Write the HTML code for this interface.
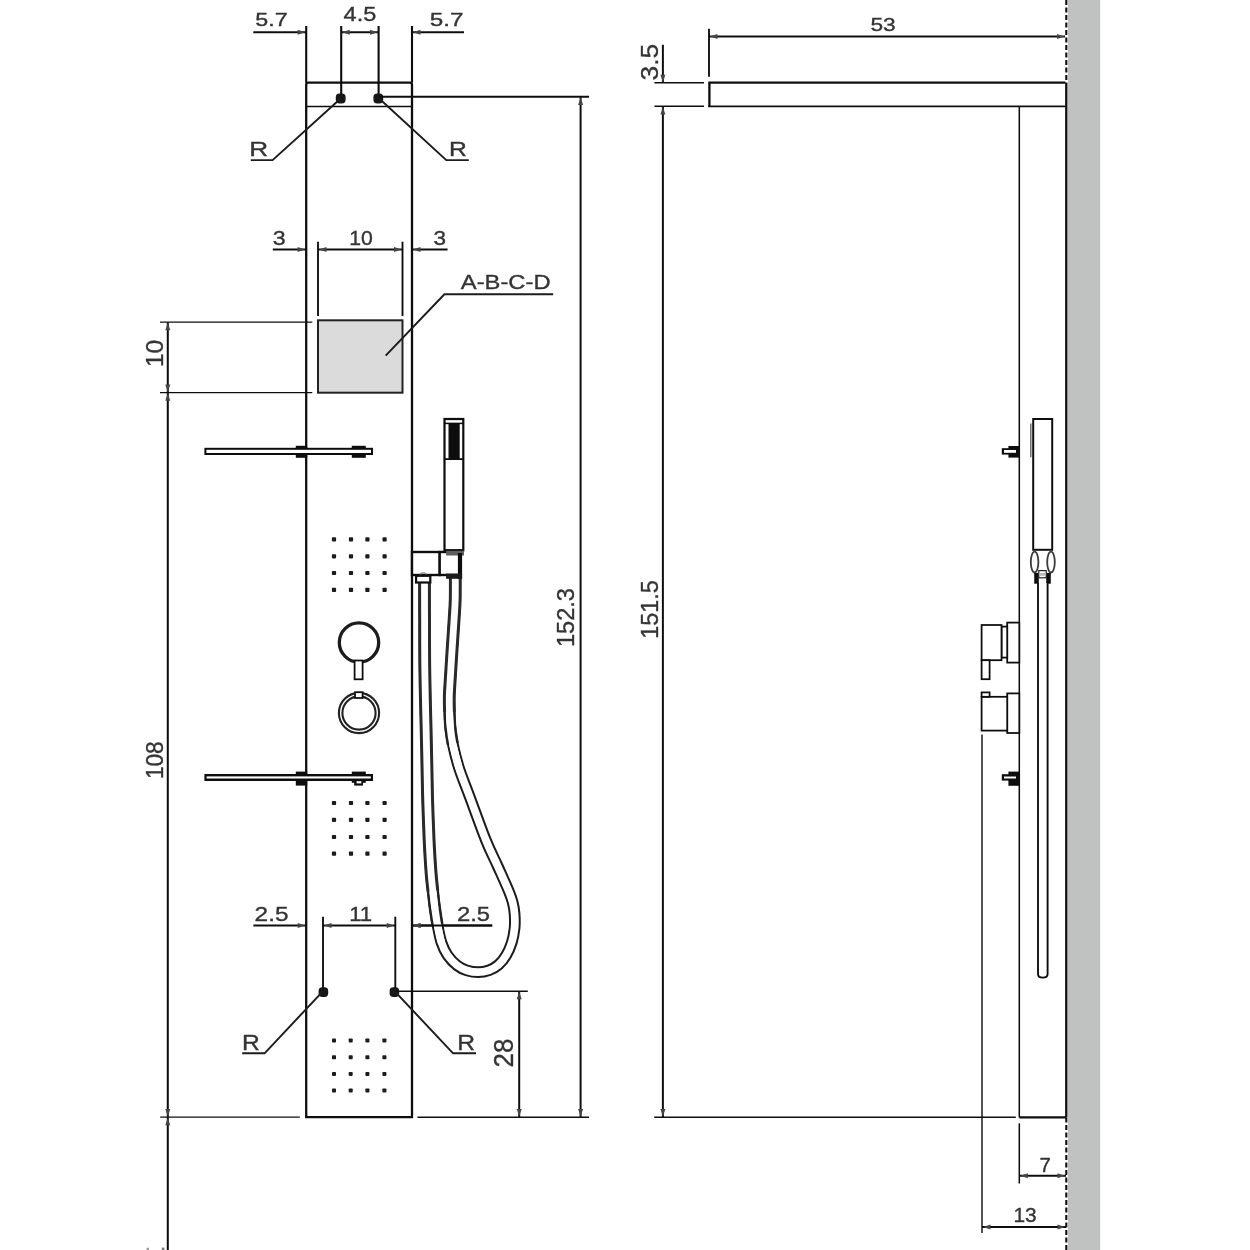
<!DOCTYPE html>
<html><head><meta charset="utf-8"><title>Shower panel dimensions</title>
<style>
html,body{margin:0;padding:0;background:#fff;overflow:hidden;}
svg{display:block;font-family:"Liberation Sans",sans-serif;}
svg{will-change:transform;transform:translateZ(0);}
</style></head>
<body>
<svg width="1250" height="1250" viewBox="0 0 1250 1250">
<defs><filter id="soft" x="-20" y="-20" width="1290" height="1290" filterUnits="userSpaceOnUse"><feGaussianBlur stdDeviation="0.42"/></filter></defs>
<rect x="0" y="0" width="1250" height="1250" fill="#fff"/>
<g filter="url(#soft)">
<rect x="-20" y="-20" width="1290" height="1290" fill="#fff"/>
<rect x="1068" y="-15" width="32.2" height="1280" fill="#c0c2c1"/>
<line x1="1066.3" y1="-15.1" x2="1066.3" y2="82.7" stroke="#111" stroke-width="2.12" stroke-dasharray="5 2.5"/>
<line x1="1066.3" y1="82.7" x2="1066.3" y2="1117.4" stroke="#111" stroke-width="2.34" />
<line x1="1066.3" y1="1117.4" x2="1066.3" y2="1265" stroke="#111" stroke-width="2.12" stroke-dasharray="5 2.5"/>
<line x1="306.2" y1="26" x2="306.2" y2="82.7" stroke="#111" stroke-width="2.12" />
<line x1="412.0" y1="26" x2="412.0" y2="82.7" stroke="#111" stroke-width="2.12" />
<line x1="341.2" y1="26" x2="341.2" y2="98" stroke="#111" stroke-width="2.12" />
<line x1="378.6" y1="26" x2="378.6" y2="98" stroke="#111" stroke-width="2.12" />
<path d="M306.2,1117.2 L306.2,84.7 Q306.2,82.7 308.2,82.7 L410.0,82.7 Q412.0,82.7 412.0,84.7 L412.0,1117.2 Z" fill="none" stroke="#111" stroke-width="2.3"/>
<line x1="306.2" y1="106.5" x2="412.0" y2="106.5" stroke="#111" stroke-width="1.44" />
<rect x="335.8" y="93.6" width="9.8" height="9.8" rx="3.7" fill="#161616"/>
<rect x="373.4" y="93.6" width="9.8" height="9.8" rx="3.7" fill="#161616"/>
<line x1="253.3" y1="32.2" x2="306.2" y2="32.2" stroke="#111" stroke-width="2.0" />
<polygon points="305.2,32.2 297.7,29.7 297.7,34.7" fill="#444"/>
<line x1="341.2" y1="32.2" x2="378.6" y2="32.2" stroke="#111" stroke-width="2.0" />
<polygon points="342.2,32.2 349.7,29.7 349.7,34.7" fill="#444"/>
<polygon points="377.6,32.2 370.1,29.7 370.1,34.7" fill="#444"/>
<line x1="412.0" y1="32.2" x2="464" y2="32.2" stroke="#111" stroke-width="2.0" />
<polygon points="413.0,32.2 420.5,29.7 420.5,34.7" fill="#444"/>
<text transform="translate(255.27,26.21) scale(1.218,1)" font-size="19.14" fill="#343434" stroke="#343434" stroke-width="0.35">5.7</text>
<text transform="translate(343.61,21.31) scale(1.212,1)" font-size="19.43" fill="#343434" stroke="#343434" stroke-width="0.35">4.5</text>
<text transform="translate(429.63,26.21) scale(1.270,1)" font-size="19.14" fill="#343434" stroke="#343434" stroke-width="0.35">5.7</text>
<polyline points="341.2,98 272.6,160.1 250.8,160.1" fill="none" stroke="#1c1c1c" stroke-width="1.95"/>
<polyline points="378.6,98 446.3,160.1 468.8,160.1" fill="none" stroke="#1c1c1c" stroke-width="1.95"/>
<text transform="translate(249.20,155.90) scale(1.274,1)" font-size="20.58" fill="#343434" stroke="#343434" stroke-width="0.35">R</text>
<text transform="translate(449.02,155.90) scale(1.200,1)" font-size="20.58" fill="#343434" stroke="#343434" stroke-width="0.35">R</text>
<line x1="272.8" y1="249.6" x2="306.2" y2="249.6" stroke="#111" stroke-width="2.0" />
<polygon points="305.2,249.6 297.7,247.1 297.7,252.1" fill="#444"/>
<line x1="318" y1="249.6" x2="402.5" y2="249.6" stroke="#111" stroke-width="2.0" />
<polygon points="319.0,249.6 326.5,247.1 326.5,252.1" fill="#444"/>
<polygon points="401.5,249.6 394.0,247.1 394.0,252.1" fill="#444"/>
<line x1="412.0" y1="249.6" x2="447.6" y2="249.6" stroke="#111" stroke-width="2.0" />
<polygon points="413.0,249.6 420.5,247.1 420.5,252.1" fill="#444"/>
<line x1="318" y1="241.7" x2="318" y2="316" stroke="#111" stroke-width="1.89" />
<line x1="402.5" y1="241.7" x2="402.5" y2="316" stroke="#111" stroke-width="1.89" />
<text transform="translate(272.87,244.70) scale(1.185,1)" font-size="19.58" fill="#343434" stroke="#343434" stroke-width="0.35">3</text>
<text transform="translate(349.31,244.70) scale(1.083,1)" font-size="19.58" fill="#343434" stroke="#343434" stroke-width="0.35">10</text>
<text transform="translate(433.60,244.70) scale(1.152,1)" font-size="19.58" fill="#343434" stroke="#343434" stroke-width="0.35">3</text>
<rect x="318" y="320.3" width="84.5" height="72.4" fill="#dbdbdb" stroke="#222" stroke-width="2.0"/>
<polyline points="385.7,355.6 444.4,294.3 553.2,294.3" fill="none" stroke="#1c1c1c" stroke-width="1.95"/>
<text transform="translate(460.78,289.29) scale(1.141,1)" font-size="20.85" fill="#343434" stroke="#343434" stroke-width="0.35">A-B-C-D</text>
<line x1="160" y1="322.2" x2="312.3" y2="322.2" stroke="#111" stroke-width="1.33" />
<line x1="160" y1="392.6" x2="312.3" y2="392.6" stroke="#111" stroke-width="1.33" />
<line x1="167.8" y1="322.2" x2="167.8" y2="1265" stroke="#111" stroke-width="2.06" />
<rect x="161.8" y="1247.6" width="2.6" height="2.4" fill="#777"/>
<rect x="146.6" y="1247.8" width="2.4" height="2.2" fill="#999"/>
<polygon points="167.8,322.8 165.3,330.3 170.3,330.3" fill="#444"/>
<polygon points="167.8,392.0 165.3,384.5 170.3,384.5" fill="#444"/>
<polygon points="167.8,393.2 165.3,400.7 170.3,400.7" fill="#444"/>
<polygon points="167.8,1116.6 165.3,1109.1 170.3,1109.1" fill="#444"/>
<polygon points="167.8,1117.8 165.3,1125.3 170.3,1125.3" fill="#444"/>
<line x1="160.2" y1="1117.2" x2="299.8" y2="1117.2" stroke="#111" stroke-width="1.33" />
<text transform="translate(163.46,367.15) scale(0.986,1) rotate(-90)" font-size="24.72" fill="#343434" stroke="#343434" stroke-width="0.35">10</text>
<text transform="translate(163.46,779.10) scale(1.076,1) rotate(-90)" font-size="22.65" fill="#343434" stroke="#343434" stroke-width="0.35">108</text>
<rect x="295.8" y="445.8" width="11.4" height="12" fill="#0e0e0e"/>
<rect x="351.8" y="445.8" width="14" height="12" fill="#0e0e0e"/>
<rect x="204.4" y="447.8" width="168.6" height="7.2" fill="#0e0e0e"/>
<rect x="206.4" y="449.8" width="164.6" height="3.2" fill="#fff"/>
<rect x="295.8" y="771.6" width="11.4" height="14" fill="#0e0e0e"/>
<rect x="351.8" y="771.6" width="14" height="11.2" fill="#0e0e0e"/>
<rect x="354.2" y="782" width="8.8" height="3.6" fill="#0e0e0e"/>
<rect x="204.4" y="774" width="168.6" height="7" fill="#0e0e0e"/>
<rect x="206.6" y="776.4" width="164.2" height="2.1" fill="#fff"/>
<rect x="356.6" y="781.2" width="4.8" height="2.2" fill="#fff"/>
<rect x="331.9" y="537.3" width="4.2" height="4.2" fill="#1a1a1a" rx="0.8"/>
<rect x="348.9" y="537.3" width="4.2" height="4.2" fill="#1a1a1a" rx="0.8"/>
<rect x="365.3" y="537.3" width="4.2" height="4.2" fill="#1a1a1a" rx="0.8"/>
<rect x="382.5" y="537.3" width="4.2" height="4.2" fill="#1a1a1a" rx="0.8"/>
<rect x="331.9" y="554.2" width="4.2" height="4.2" fill="#1a1a1a" rx="0.8"/>
<rect x="348.9" y="554.2" width="4.2" height="4.2" fill="#1a1a1a" rx="0.8"/>
<rect x="365.3" y="554.2" width="4.2" height="4.2" fill="#1a1a1a" rx="0.8"/>
<rect x="382.5" y="554.2" width="4.2" height="4.2" fill="#1a1a1a" rx="0.8"/>
<rect x="331.9" y="570.9" width="4.2" height="4.2" fill="#1a1a1a" rx="0.8"/>
<rect x="348.9" y="570.9" width="4.2" height="4.2" fill="#1a1a1a" rx="0.8"/>
<rect x="365.3" y="570.9" width="4.2" height="4.2" fill="#1a1a1a" rx="0.8"/>
<rect x="382.5" y="570.9" width="4.2" height="4.2" fill="#1a1a1a" rx="0.8"/>
<rect x="331.9" y="587.8" width="4.2" height="4.2" fill="#1a1a1a" rx="0.8"/>
<rect x="348.9" y="587.8" width="4.2" height="4.2" fill="#1a1a1a" rx="0.8"/>
<rect x="365.3" y="587.8" width="4.2" height="4.2" fill="#1a1a1a" rx="0.8"/>
<rect x="382.5" y="587.8" width="4.2" height="4.2" fill="#1a1a1a" rx="0.8"/>
<rect x="331.9" y="800.9" width="4.2" height="4.2" fill="#1a1a1a" rx="0.8"/>
<rect x="348.9" y="800.9" width="4.2" height="4.2" fill="#1a1a1a" rx="0.8"/>
<rect x="365.3" y="800.9" width="4.2" height="4.2" fill="#1a1a1a" rx="0.8"/>
<rect x="382.5" y="800.9" width="4.2" height="4.2" fill="#1a1a1a" rx="0.8"/>
<rect x="331.9" y="817.7" width="4.2" height="4.2" fill="#1a1a1a" rx="0.8"/>
<rect x="348.9" y="817.7" width="4.2" height="4.2" fill="#1a1a1a" rx="0.8"/>
<rect x="365.3" y="817.7" width="4.2" height="4.2" fill="#1a1a1a" rx="0.8"/>
<rect x="382.5" y="817.7" width="4.2" height="4.2" fill="#1a1a1a" rx="0.8"/>
<rect x="331.9" y="834.9" width="4.2" height="4.2" fill="#1a1a1a" rx="0.8"/>
<rect x="348.9" y="834.9" width="4.2" height="4.2" fill="#1a1a1a" rx="0.8"/>
<rect x="365.3" y="834.9" width="4.2" height="4.2" fill="#1a1a1a" rx="0.8"/>
<rect x="382.5" y="834.9" width="4.2" height="4.2" fill="#1a1a1a" rx="0.8"/>
<rect x="331.9" y="851.6" width="4.2" height="4.2" fill="#1a1a1a" rx="0.8"/>
<rect x="348.9" y="851.6" width="4.2" height="4.2" fill="#1a1a1a" rx="0.8"/>
<rect x="365.3" y="851.6" width="4.2" height="4.2" fill="#1a1a1a" rx="0.8"/>
<rect x="382.5" y="851.6" width="4.2" height="4.2" fill="#1a1a1a" rx="0.8"/>
<rect x="332.0" y="1038.5" width="4.0" height="4.0" fill="#1a1a1a" rx="0.8"/>
<rect x="348.7" y="1038.5" width="4.0" height="4.0" fill="#1a1a1a" rx="0.8"/>
<rect x="365.4" y="1038.5" width="4.0" height="4.0" fill="#1a1a1a" rx="0.8"/>
<rect x="382.4" y="1038.5" width="4.0" height="4.0" fill="#1a1a1a" rx="0.8"/>
<rect x="332.0" y="1055.2" width="4.0" height="4.0" fill="#1a1a1a" rx="0.8"/>
<rect x="348.7" y="1055.2" width="4.0" height="4.0" fill="#1a1a1a" rx="0.8"/>
<rect x="365.4" y="1055.2" width="4.0" height="4.0" fill="#1a1a1a" rx="0.8"/>
<rect x="382.4" y="1055.2" width="4.0" height="4.0" fill="#1a1a1a" rx="0.8"/>
<rect x="332.0" y="1071.9" width="4.0" height="4.0" fill="#1a1a1a" rx="0.8"/>
<rect x="348.7" y="1071.9" width="4.0" height="4.0" fill="#1a1a1a" rx="0.8"/>
<rect x="365.4" y="1071.9" width="4.0" height="4.0" fill="#1a1a1a" rx="0.8"/>
<rect x="382.4" y="1071.9" width="4.0" height="4.0" fill="#1a1a1a" rx="0.8"/>
<rect x="332.0" y="1088.5" width="4.0" height="4.0" fill="#1a1a1a" rx="0.8"/>
<rect x="348.7" y="1088.5" width="4.0" height="4.0" fill="#1a1a1a" rx="0.8"/>
<rect x="365.4" y="1088.5" width="4.0" height="4.0" fill="#1a1a1a" rx="0.8"/>
<rect x="382.4" y="1088.5" width="4.0" height="4.0" fill="#1a1a1a" rx="0.8"/>
<circle cx="359" cy="642.5" r="19.7" fill="none" stroke="#1a1a1a" stroke-width="3.3"/>
<rect x="354.6" y="660.5" width="8.0" height="18.8" fill="#fff" stroke="#111" stroke-width="1.78"/>
<circle cx="359" cy="713" r="20.1" fill="none" stroke="#222" stroke-width="2.1"/>
<circle cx="359" cy="713" r="16.6" fill="none" stroke="#222" stroke-width="2.1"/>
<rect x="355" y="692.2" width="7.6" height="5.8" fill="#fff" stroke="#111" stroke-width="1.78"/>
<line x1="253.4" y1="925.4" x2="306.2" y2="925.4" stroke="#111" stroke-width="2.0" />
<polygon points="305.2,925.4 297.7,922.9 297.7,927.9" fill="#444"/>
<line x1="323" y1="925.4" x2="395.3" y2="925.4" stroke="#111" stroke-width="2.0" />
<polygon points="324.0,925.4 331.5,922.9 331.5,927.9" fill="#444"/>
<polygon points="394.3,925.4 386.8,922.9 386.8,927.9" fill="#444"/>
<line x1="412.0" y1="925.4" x2="492.2" y2="925.4" stroke="#111" stroke-width="2.0" />
<polygon points="413.0,925.4 420.5,922.9 420.5,927.9" fill="#444"/>
<line x1="323" y1="916.7" x2="323" y2="991.4" stroke="#111" stroke-width="1.89" />
<line x1="395.3" y1="916.7" x2="395.3" y2="991.4" stroke="#111" stroke-width="1.89" />
<rect x="318.6" y="987.3" width="9.6" height="9.6" rx="3.7" fill="#161616"/>
<rect x="389.6" y="987.3" width="9.6" height="9.6" rx="3.7" fill="#161616"/>
<text transform="translate(254.58,920.50) scale(1.237,1)" font-size="19.72" fill="#343434" stroke="#343434" stroke-width="0.35">2.5</text>
<text transform="translate(349.14,920.70) scale(1.094,1)" font-size="20.29" fill="#343434" stroke="#343434" stroke-width="0.35">11</text>
<text transform="translate(456.91,920.50) scale(1.209,1)" font-size="19.72" fill="#343434" stroke="#343434" stroke-width="0.35">2.5</text>
<polyline points="322.8,991.4 264.6,1053.3 242.2,1053.3" fill="none" stroke="#1c1c1c" stroke-width="1.95"/>
<polyline points="394.8,991.4 453.1,1053.3 476,1053.3" fill="none" stroke="#1c1c1c" stroke-width="1.95"/>
<text transform="translate(242.02,1050.30) scale(1.152,1)" font-size="21.45" fill="#343434" stroke="#343434" stroke-width="0.35">R</text>
<text transform="translate(457.32,1050.30) scale(1.152,1)" font-size="21.45" fill="#343434" stroke="#343434" stroke-width="0.35">R</text>
<line x1="394.8" y1="991.2" x2="527.8" y2="991.2" stroke="#111" stroke-width="1.44" />
<line x1="519.2" y1="991.2" x2="519.2" y2="1117.2" stroke="#111" stroke-width="2.0" />
<polygon points="519.2,991.8 516.7,999.3 521.7,999.3" fill="#444"/>
<polygon points="519.2,1116.6 516.7,1109.1 521.7,1109.1" fill="#444"/>
<text transform="translate(512.63,1067.50) scale(1.030,1) rotate(-90)" font-size="25.98" fill="#343434" stroke="#343434" stroke-width="0.35">28</text>
<line x1="417.4" y1="1117.2" x2="589" y2="1117.2" stroke="#111" stroke-width="1.44" />
<line x1="378.6" y1="96.8" x2="589" y2="96.8" stroke="#111" stroke-width="1.95" />
<line x1="580.6" y1="96.8" x2="580.6" y2="1117.2" stroke="#111" stroke-width="2.0" />
<polygon points="580.6,97.4 578.1,104.9 583.1,104.9" fill="#444"/>
<polygon points="580.6,1116.6 578.1,1109.1 583.1,1109.1" fill="#444"/>
<text transform="translate(573.85,647.07) scale(1.050,1) rotate(-90)" font-size="23.61" fill="#343434" stroke="#343434" stroke-width="0.35">152.3</text>
<rect x="444.5" y="419" width="18.8" height="131.2" fill="#fff" stroke="#111" stroke-width="2.23"/>
<line x1="444.5" y1="423.4" x2="463.3" y2="423.4" stroke="#111" stroke-width="1.5" />
<rect x="448.5" y="423.6" width="11.2" height="35.8" fill="#0c0c0c"/>
<line x1="444.5" y1="459.1" x2="463.3" y2="459.1" stroke="#111" stroke-width="1.78" />
<path d="M424.5,582.4 C424.5,588.7 424.5,607.1 424.6,620.0 C424.6,632.9 424.6,646.7 424.7,660.0 C424.8,673.3 425.2,688.7 425.4,700.0 C425.6,711.3 425.8,716.3 426.1,728.0 C426.4,739.7 426.7,757.2 427.0,770.0 C427.3,782.8 427.4,793.3 427.8,805.0 C428.2,816.7 428.6,828.8 429.1,840.0 C429.6,851.2 430.4,863.5 431.0,872.0 C431.6,880.5 432.2,885.0 432.9,891.2 C433.6,897.4 434.2,903.5 435.0,909.0 C435.8,914.5 436.3,918.9 437.4,924.5 C438.5,930.1 439.7,937.3 441.4,942.4 C443.1,947.5 444.9,951.4 447.5,955.2 C450.1,959.0 453.8,962.8 457.0,965.3 C460.2,967.8 463.5,969.4 467.0,970.5 C470.5,971.6 474.4,972.2 478.1,972.2 C481.8,972.2 485.6,971.5 489.0,970.3 C492.4,969.1 495.6,967.3 498.5,964.8 C501.4,962.3 504.0,958.9 506.2,955.2 C508.4,951.5 510.4,946.9 511.8,942.4 C513.2,937.9 514.1,932.7 514.6,928.0 C515.1,923.3 514.9,918.3 514.6,914.0 C514.3,909.7 513.6,905.8 512.6,902.0 C511.6,898.2 511.3,897.2 508.8,891.2 C506.3,885.2 501.4,874.5 497.6,866.0 C493.8,857.5 490.5,851.7 485.8,840.0 C481.1,828.3 473.9,808.0 469.4,796.0 C464.9,784.0 461.8,776.7 459.0,768.0 C456.2,759.3 454.2,750.7 452.8,744.0 C451.4,737.3 450.9,733.3 450.4,728.0 C449.8,722.7 449.7,717.2 449.5,712.0 C449.3,706.8 449.2,702.3 449.3,697.0 C449.4,691.7 449.7,688.2 450.2,680.0 C450.7,671.8 451.5,658.3 452.2,648.0 C452.9,637.7 453.7,626.0 454.2,618.0 C454.7,610.0 455.0,606.7 455.2,600.0 C455.4,593.3 455.3,581.7 455.3,578.0" fill="none" stroke="#1c1c1c" stroke-width="11.7" stroke-linecap="butt"/>
<path d="M424.5,582.4 C424.5,588.7 424.5,607.1 424.6,620.0 C424.6,632.9 424.6,646.7 424.7,660.0 C424.8,673.3 425.2,688.7 425.4,700.0 C425.6,711.3 425.8,716.3 426.1,728.0 C426.4,739.7 426.7,757.2 427.0,770.0 C427.3,782.8 427.4,793.3 427.8,805.0 C428.2,816.7 428.6,828.8 429.1,840.0 C429.6,851.2 430.4,863.5 431.0,872.0 C431.6,880.5 432.2,885.0 432.9,891.2 C433.6,897.4 434.2,903.5 435.0,909.0 C435.8,914.5 436.3,918.9 437.4,924.5 C438.5,930.1 439.7,937.3 441.4,942.4 C443.1,947.5 444.9,951.4 447.5,955.2 C450.1,959.0 453.8,962.8 457.0,965.3 C460.2,967.8 463.5,969.4 467.0,970.5 C470.5,971.6 474.4,972.2 478.1,972.2 C481.8,972.2 485.6,971.5 489.0,970.3 C492.4,969.1 495.6,967.3 498.5,964.8 C501.4,962.3 504.0,958.9 506.2,955.2 C508.4,951.5 510.4,946.9 511.8,942.4 C513.2,937.9 514.1,932.7 514.6,928.0 C515.1,923.3 514.9,918.3 514.6,914.0 C514.3,909.7 513.6,905.8 512.6,902.0 C511.6,898.2 511.3,897.2 508.8,891.2 C506.3,885.2 501.4,874.5 497.6,866.0 C493.8,857.5 490.5,851.7 485.8,840.0 C481.1,828.3 473.9,808.0 469.4,796.0 C464.9,784.0 461.8,776.7 459.0,768.0 C456.2,759.3 454.2,750.7 452.8,744.0 C451.4,737.3 450.9,733.3 450.4,728.0 C449.8,722.7 449.7,717.2 449.5,712.0 C449.3,706.8 449.2,702.3 449.3,697.0 C449.4,691.7 449.7,688.2 450.2,680.0 C450.7,671.8 451.5,658.3 452.2,648.0 C452.9,637.7 453.7,626.0 454.2,618.0 C454.7,610.0 455.0,606.7 455.2,600.0 C455.4,593.3 455.3,581.7 455.3,578.0" fill="none" stroke="#fff" stroke-width="7.7"/>
<path d="M432.9,891.2 C433.2,894.2 434.2,903.5 435.0,909.0 C435.8,914.5 437.0,921.9 437.4,924.5" fill="none" stroke="#222" stroke-width="12.2"/>
<path d="M432.9,891.2 C433.2,894.2 434.2,903.5 435.0,909.0 C435.8,914.5 436.3,918.9 437.4,924.5 C438.5,930.1 440.7,939.4 441.4,942.4" fill="none" stroke="#fff" stroke-width="7.25"/>
<path d="M452.8,744.0 C452.4,741.3 450.9,733.3 450.4,728.0 C449.8,722.7 449.6,714.7 449.5,712.0" fill="none" stroke="#222" stroke-width="12.2"/>
<path d="M459.0,768.0 C458.0,764.0 454.2,750.7 452.8,744.0 C451.4,737.3 450.9,733.3 450.4,728.0 C449.8,722.7 449.6,714.7 449.5,712.0" fill="none" stroke="#fff" stroke-width="7.25"/>
<path d="M424.5,582.4 C424.5,588.7 424.5,607.1 424.6,620.0 C424.6,632.9 424.6,646.7 424.7,660.0 C424.8,673.3 425.2,688.7 425.4,700.0 C425.6,711.3 425.8,716.3 426.1,728.0 C426.4,739.7 426.7,757.2 427.0,770.0 C427.3,782.8 427.4,793.3 427.8,805.0 C428.2,816.7 428.6,828.8 429.1,840.0 C429.6,851.2 430.4,863.5 431.0,872.0 C431.6,880.5 432.6,888.0 432.9,891.2" fill="none" stroke="#2a2a2a" stroke-width="12.8"/>
<path d="M424.5,582.4 C424.5,588.7 424.5,607.1 424.6,620.0 C424.6,632.9 424.6,646.7 424.7,660.0 C424.8,673.3 425.2,688.7 425.4,700.0 C425.6,711.3 425.8,716.3 426.1,728.0 C426.4,739.7 426.7,757.2 427.0,770.0 C427.3,782.8 427.4,793.3 427.8,805.0 C428.2,816.7 428.6,828.8 429.1,840.0 C429.6,851.2 430.4,863.5 431.0,872.0 C431.6,880.5 432.2,885.0 432.9,891.2 C433.6,897.4 434.6,906.0 435.0,909.0" fill="none" stroke="#fff" stroke-width="6.8"/>
<path d="M449.5,712.0 C449.5,709.5 449.2,702.3 449.3,697.0 C449.4,691.7 449.7,688.2 450.2,680.0 C450.7,671.8 451.5,658.3 452.2,648.0 C452.9,637.7 453.7,626.0 454.2,618.0 C454.7,610.0 455.0,606.7 455.2,600.0 C455.4,593.3 455.3,581.7 455.3,578.0" fill="none" stroke="#2a2a2a" stroke-width="12.8"/>
<path d="M450.4,728.0 C450.2,725.3 449.7,717.2 449.5,712.0 C449.3,706.8 449.2,702.3 449.3,697.0 C449.4,691.7 449.7,688.2 450.2,680.0 C450.7,671.8 451.5,658.3 452.2,648.0 C452.9,637.7 453.7,626.0 454.2,618.0 C454.7,610.0 455.0,606.7 455.2,600.0 C455.4,593.3 455.3,581.7 455.3,578.0" fill="none" stroke="#fff" stroke-width="6.8"/>
<rect x="412.0" y="552" width="27.7" height="23" fill="#fff" stroke="#111" stroke-width="2.4"/>
<rect x="439.7" y="552" width="20.3" height="23" fill="#fff" stroke="#111" stroke-width="2.4"/>
<rect x="446.1" y="550.8" width="17.9" height="4.7" fill="#5e5e5e"/>
<rect x="457.9" y="553" width="4.2" height="25.8" fill="#111"/>
<rect x="446.1" y="573.6" width="16" height="5.2" fill="#1a1a1a"/>
<rect x="416.1" y="575.8" width="14.2" height="6.7" fill="#fff" stroke="#111" stroke-width="2.23"/>
<path d="M419.8,574.2 Q423.2,571.6 426.6,574.2" fill="none" stroke="#888" stroke-width="1.3"/>
<line x1="412.0" y1="925.4" x2="492.2" y2="925.4" stroke="#111" stroke-width="2.0" />
<polygon points="413.0,925.4 420.5,922.9 420.5,927.9" fill="#444"/>
<line x1="709" y1="28.7" x2="709" y2="76.8" stroke="#111" stroke-width="1.89" />
<line x1="709" y1="36.6" x2="1065" y2="36.6" stroke="#111" stroke-width="2.0" />
<polygon points="710.0,36.6 717.5,34.1 717.5,39.1" fill="#444"/>
<polygon points="1064.5,36.6 1057.0,34.1 1057.0,39.1" fill="#444"/>
<text transform="translate(870.49,31.31) scale(1.187,1)" font-size="19.15" fill="#343434" stroke="#343434" stroke-width="0.35">53</text>
<line x1="662.9" y1="44.8" x2="662.9" y2="82.7" stroke="#111" stroke-width="2.0" />
<polygon points="662.9,82.2 660.4,74.7 665.4,74.7" fill="#444"/>
<line x1="654.4" y1="82.7" x2="704" y2="82.7" stroke="#111" stroke-width="1.44" />
<line x1="654.4" y1="106.3" x2="704" y2="106.3" stroke="#111" stroke-width="1.44" />
<text transform="translate(658.26,80.45) scale(0.920,1) rotate(-90)" font-size="26.34" fill="#343434" stroke="#343434" stroke-width="0.35">3.5</text>
<line x1="662.9" y1="106.3" x2="662.9" y2="1117.2" stroke="#111" stroke-width="2.0" />
<polygon points="662.9,107.0 660.4,114.5 665.4,114.5" fill="#444"/>
<polygon points="662.9,1116.6 660.4,1109.1 665.4,1109.1" fill="#444"/>
<text transform="translate(657.86,638.85) scale(1.026,1) rotate(-90)" font-size="23.40" fill="#343434" stroke="#343434" stroke-width="0.35">151.5</text>
<line x1="654.2" y1="1117.3" x2="1015.8" y2="1117.3" stroke="#111" stroke-width="1.44" />
<rect x="709.4" y="82.7" width="355.4" height="23.6" fill="#fff"/>
<line x1="708.3" y1="82.7" x2="1065.5" y2="82.7" stroke="#111" stroke-width="2.34" />
<line x1="709.4" y1="82.7" x2="709.4" y2="107" stroke="#111" stroke-width="2.34" />
<line x1="708.3" y1="106.3" x2="1065.5" y2="106.3" stroke="#111" stroke-width="1.72" />
<line x1="1019.3" y1="106.3" x2="1019.3" y2="1117.4" stroke="#111" stroke-width="1.56" />
<line x1="1019.3" y1="1117.4" x2="1066" y2="1117.4" stroke="#111" stroke-width="2.12" />
<rect x="1008.4" y="446" width="10.6" height="11.6" fill="#0e0e0e"/>
<rect x="1001.8" y="448.2" width="16" height="6.4" fill="#0e0e0e"/>
<rect x="1004" y="450" width="12" height="2.8" fill="#fff"/>
<rect x="1008.4" y="771.6" width="10.6" height="14.2" fill="#0e0e0e"/>
<rect x="1001.8" y="774.2" width="16" height="6.4" fill="#0e0e0e"/>
<rect x="1004" y="776.5" width="12" height="2" fill="#fff"/>
<rect x="1033.2" y="419" width="19.0" height="130.8" fill="#fff" stroke="#111" stroke-width="2.0"/>
<line x1="1030.8" y1="423.6" x2="1030.8" y2="457.2" stroke="#666" stroke-width="1.44" />
<ellipse cx="1034.6" cy="562.1" rx="3.8" ry="10.4" fill="#fff" stroke="#3a3a3a" stroke-width="1.8"/>
<ellipse cx="1051" cy="562.1" rx="3.8" ry="10.4" fill="#fff" stroke="#3a3a3a" stroke-width="1.8"/>
<rect x="1034.2" y="572.9" width="4.6" height="10.8" fill="#111"/>
<rect x="1046.2" y="572.9" width="4.6" height="10.8" fill="#111"/>
<rect x="1038.8" y="570.6" width="7.4" height="7.2" fill="#fff" stroke="#222" stroke-width="1.2"/>
<rect x="1039.4" y="573" width="6.2" height="2.8" fill="#bbb"/>
<path d="M1038,583 L1038,974 Q1038,977.6 1042.8,977.6 Q1047.6,977.6 1047.6,974 L1047.6,583" fill="#fff" stroke="#111" stroke-width="1.9"/>
<rect x="1007.2" y="622.6" width="12.1" height="40.0" fill="#fff" stroke="#111" stroke-width="1.78"/>
<rect x="1001.5" y="626.6" width="5.7" height="31.0" fill="#fff" stroke="#111" stroke-width="1.78"/>
<rect x="981.6" y="625" width="19.9" height="35.2" fill="#fff" stroke="#111" stroke-width="1.78"/>
<rect x="981.6" y="660.2" width="8.0" height="19.0" fill="#fff" stroke="#111" stroke-width="1.78"/>
<rect x="1007.2" y="693.4" width="12.1" height="39.6" fill="#fff" stroke="#111" stroke-width="1.78"/>
<rect x="981.6" y="696.8" width="25.6" height="33.8" fill="#fff" stroke="#111" stroke-width="1.78"/>
<rect x="981.6" y="692.4" width="8.0" height="4.4" fill="#fff" stroke="#111" stroke-width="1.78"/>
<line x1="982" y1="734.4" x2="982" y2="1233" stroke="#111" stroke-width="1.44" />
<line x1="1019.3" y1="1123.3" x2="1019.3" y2="1183.5" stroke="#111" stroke-width="1.56" />
<line x1="1019.3" y1="1175.8" x2="1066" y2="1175.8" stroke="#111" stroke-width="2.0" />
<polygon points="1020.3,1175.8 1027.8,1173.3 1027.8,1178.3" fill="#444"/>
<polygon points="1065.0,1175.8 1057.5,1173.3 1057.5,1178.3" fill="#444"/>
<line x1="982" y1="1227" x2="1066" y2="1227" stroke="#111" stroke-width="2.0" />
<polygon points="983.0,1227.0 990.5,1224.5 990.5,1229.5" fill="#444"/>
<polygon points="1065.0,1227.0 1057.5,1224.5 1057.5,1229.5" fill="#444"/>
<text transform="translate(1039.48,1171.50) scale(0.993,1)" font-size="20.58" fill="#343434" stroke="#343434" stroke-width="0.35">7</text>
<text transform="translate(1013.43,1222.40) scale(1.038,1)" font-size="20.14" fill="#343434" stroke="#343434" stroke-width="0.35">13</text>
</g>
</svg>
</body></html>
